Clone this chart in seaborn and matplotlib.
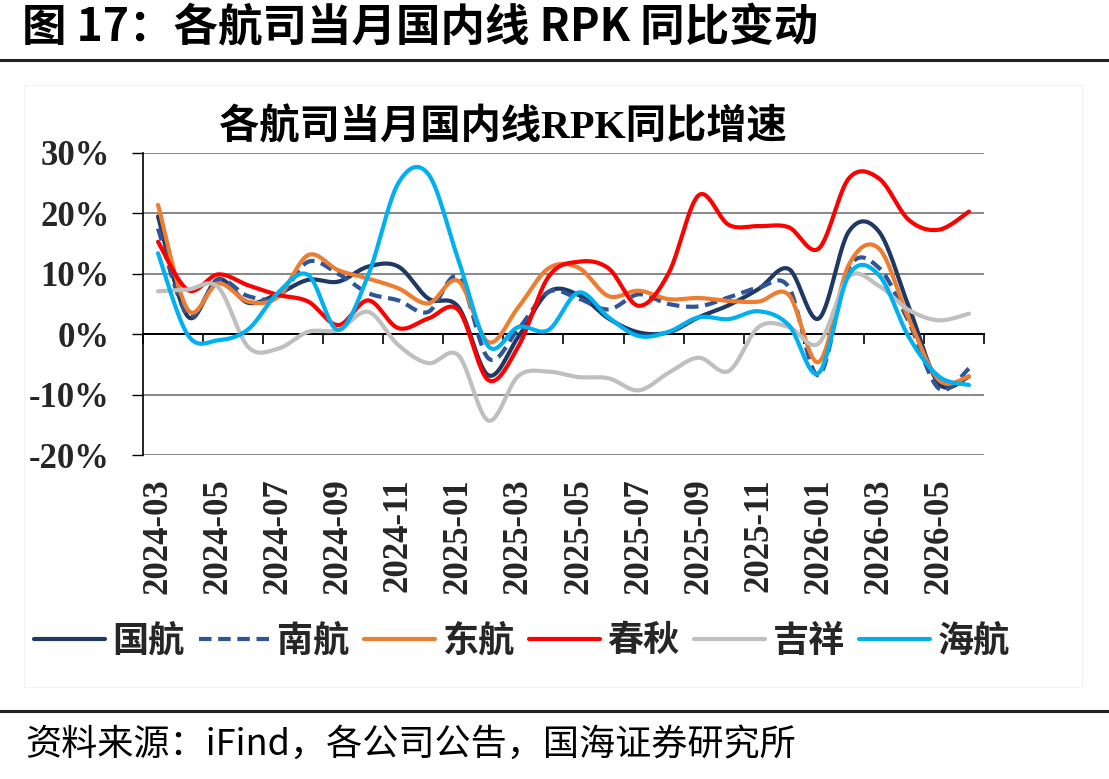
import numpy as np
import pandas as pd
import matplotlib
matplotlib.use("Agg")
import matplotlib.pyplot as plt
from matplotlib.lines import Line2D
from matplotlib.patches import Rectangle
from matplotlib.font_manager import FontProperties
import seaborn as sns

# ---------------- data (% YoY) ----------------
months = pd.date_range("2024-03-01", periods=28, freq="MS").strftime("%Y-%m").tolist()
airlines = ["国航", "南航", "东航", "春秋", "吉祥", "海航"]
air_china = [19.5, 2.9, 9.1, 5.2, 6.7, 9.0, 8.7, 11.2, 11.2, 5.9, 4.5, -6.8, -0.4, 7.0,
             6.5, 2.6, 0.3, 0.3, 2.8, 4.8, 7.5, 10.8, 2.6, 17.0, 17.0, 4.5, -8.2, -7.0]
china_southern = [17.5, 3.1, 9.0, 6.3, 6.2, 12.0, 10.0, 6.8, 5.6, 3.7, 9.5, -4.0, 0.9, 7.0,
                  5.9, 4.1, 6.6, 5.0, 4.6, 6.1, 7.7, 7.8, -6.8, 11.0, 11.0, 2.0, -9.0, -5.7]
china_eastern = [21.4, 4.0, 8.4, 5.4, 6.2, 13.1, 10.6, 9.2, 7.6, 5.1, 8.8, -1.3, 4.5, 10.9,
                 11.0, 6.3, 7.2, 5.8, 6.0, 5.5, 5.4, 6.5, -4.6, 11.5, 14.2, 2.5, -7.6, -7.0]
spring = [15.3, 7.3, 9.9, 8.1, 6.5, 5.4, 1.5, 5.6, 1.0, 2.6, 4.0, -7.6, -2.0, 9.5,
          12.0, 10.9, 4.7, 10.1, 23.0, 18.1, 17.9, 17.7, 14.2, 25.8, 25.8, 18.9, 17.3, 20.3]
juneyao = [7.1, 7.4, 7.8, -2.1, -2.4, 0.4, 0.7, 3.7, -1.8, -4.8, -3.5, -14.3, -6.9, -6.2,
           -7.1, -7.3, -9.3, -6.4, -3.9, -6.1, 1.2, 1.2, -1.5, 9.5, 8.0, 4.0, 2.3, 3.4]
hainan = [13.4, -0.2, -1.0, 0.8, 6.9, 9.8, 0.7, 9.8, 25.0, 26.5, 12.3, -2.0, 1.2, 0.7,
          6.9, 2.8, -0.3, 0.4, 2.8, 2.5, 3.8, 1.5, -6.4, 9.8, 9.8, -0.5, -7.0, -8.4]
series = [air_china, china_southern, china_eastern, spring, juneyao, hainan]
yticks = [-0.2, -0.1, 0.0, 0.1, 0.2, 0.3]
ytick_labels = ["-20%", "-10%", "0%", "10%", "20%", "30%"]

colors = {"国航": "#1F3864", "南航": "#2F5597", "东航": "#ED7D31",
          "春秋": "#FF0000", "吉祥": "#BFBFBF", "海航": "#00B0F0"}


def smooth(vals, n=30):
    """Excel-style smoothed line (cubic Bezier / Catmull-Rom through the points)."""
    y = np.asarray(vals, float)
    x = np.arange(len(y), dtype=float)
    P = np.column_stack([x, y])
    E = np.vstack([P[0], P, P[-1]])
    t = np.linspace(0, 1, n, endpoint=False)[:, None]
    pts = []
    for i in range(len(P) - 1):
        p0, p3 = P[i], P[i + 1]
        c1 = p0 + (E[i + 2] - E[i]) / 6.0
        c2 = p3 - (E[i + 3] - E[i + 1]) / 6.0
        seg = ((1 - t) ** 3) * p0 + 3 * ((1 - t) ** 2) * t * c1 + 3 * (1 - t) * t ** 2 * c2 + t ** 3 * p3
        pts.append(seg)
    pts.append(P[-1][None, :])
    pts = np.vstack(pts)
    return pts[:, 0], pts[:, 1]


frames = []
for name, vals in zip(airlines, series):
    xs, ys = smooth(np.array(vals) / 100.0)
    frames.append(pd.DataFrame({"x": xs, "y": ys, "airline": name}))
df = pd.concat(frames, ignore_index=True)

sns.set_theme(style="white")
plt.rcParams["font.family"] = ["Noto Sans CJK SC", "DejaVu Sans"]
plt.rcParams["axes.unicode_minus"] = False

W, H = 1109, 779
fig = plt.figure(figsize=(W / 100, H / 100), dpi=100)
fig.patch.set_facecolor("white")

# faint chart frame
fig.add_artist(Rectangle((24 / W, 1 - 687 / H), (1082 - 24) / W, (687 - 85) / H,
                         transform=fig.transFigure, fill=False, edgecolor="#F3F3F3", lw=0.8))

L, R, T, B = 143, 984, 153, 455
ax = fig.add_axes([L / W, 1 - B / H, (R - L) / W, (B - T) / H])

sns.lineplot(data=df, x="x", y="y", hue="airline", style="airline",
             hue_order=airlines, style_order=airlines, palette=colors,
             dashes={"国航": "", "南航": (3.0, 1.6), "东航": "", "春秋": "",
                     "吉祥": "", "海航": ""},
             sort=False, estimator=None, lw=3.0, legend=False, ax=ax, zorder=3)
for ln in ax.get_lines():
    ln.set_solid_capstyle("round")
    ln.set_dash_capstyle("butt")

ax.set_xlim(-0.5, 27.5)
ax.set_ylim(-0.2, 0.3)
ax.set_xlabel("")
ax.set_ylabel("")

serif_bold = FontProperties(family="Liberation Serif", weight="bold", size=25)

ax.set_yticks(yticks)
ax.set_yticklabels(ytick_labels, fontproperties=serif_bold)
ax.tick_params(axis="y", direction="out", length=8, width=1, color="black", pad=16, left=True)
ax.yaxis.grid(True, color="#878787", lw=1.4)
ax.xaxis.grid(False)
ax.set_axisbelow(True)

for s in ["top", "right"]:
    ax.spines[s].set_visible(False)
ax.spines["left"].set_color("black")
ax.spines["left"].set_linewidth(1.2)
ax.spines["bottom"].set_position(("data", 0))
ax.spines["bottom"].set_color("black")
ax.spines["bottom"].set_linewidth(1.4)
ax.spines["bottom"].set_zorder(2)

# tick marks between categories on the zero line
ax.set_xticks(np.arange(-0.5, 28, 2))
ax.tick_params(axis="x", direction="out", length=7, width=1.2, color="black",
               bottom=True, labelbottom=False)

# category labels at the bottom of the plot
sec = ax.secondary_xaxis(0)
sec.set_xticks(np.arange(0, 28, 2))
sec.set_xticklabels(months[::2], rotation=90, fontproperties=serif_bold)
sec.tick_params(axis="x", length=0, pad=17)
for s in sec.spines.values():
    s.set_visible(False)

# chart title
fig.text(503 / W, 1 - 128 / H, "各航司当月国内线RPK同比增速",
         family=["Liberation Serif", "Noto Sans CJK SC"], weight="bold", size=29,
         ha="center", va="center", color="black")

# legend
handles = ax.get_lines()[:6]
fig.legend(handles, airlines, loc="center", bbox_to_anchor=(522 / W, 1 - 641 / H),
           ncol=6, frameon=False,
           prop=FontProperties(family="Noto Sans CJK SC", weight="bold", size=26),
           handlelength=1.97, handletextpad=0.2, columnspacing=0.4)

# figure header / footer
fig.text(22 / W, 1 - 28 / H, "图 17：各航司当月国内线 RPK 同比变动",
         family=["Noto Sans CJK SC", "DejaVu Sans"], weight="bold", size=32,
         ha="left", va="center", color="black")
fig.add_artist(Line2D([0, 1], [1 - 60 / H, 1 - 60 / H], transform=fig.transFigure,
                      color="#222222", lw=2.2))
fig.add_artist(Line2D([0, 1], [1 - 711 / H, 1 - 711 / H], transform=fig.transFigure,
                      color="#222222", lw=2.2))
fig.text(25 / W, 1 - 745 / H, "资料来源：iFind，各公司公告，国海证券研究所",
         family=["Noto Sans CJK SC", "DejaVu Sans"], size=26,
         ha="left", va="center", color="black")

fig.savefig("out.png", dpi=100, facecolor="white")
